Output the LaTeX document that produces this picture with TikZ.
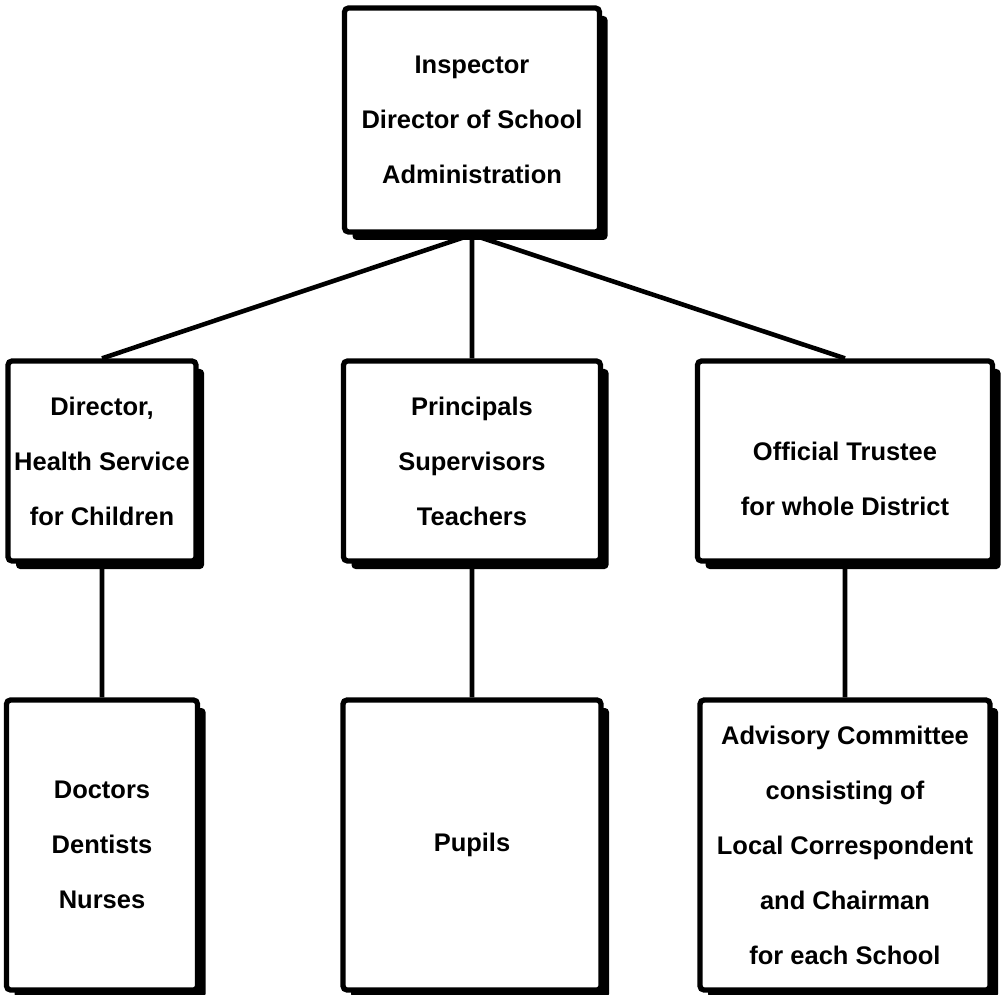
\documentclass[tikz,border=0pt]{standalone}
\usepackage{fontspec}
\setmainfont{Liberation Sans}
\usetikzlibrary{shadows}

\begin{document}
\begin{tikzpicture}
   \tikzstyle{level 1}=[sibling distance=7.4cm, level distance=6.82cm]
   \tikzstyle{level 2}=[level distance=7.68cm]
   \tikzstyle{every node}=[draw, line width=3pt, rounded corners=0.8mm, fill=white, align=center, inner sep=1pt, minimum height=4cm, font=\bfseries\fontsize{14.5}{31.3}\selectfont, drop shadow={shadow xshift=1.6mm, shadow yshift=-1.6mm, fill=black, opacity=1}]
   \tikzstyle{edge from parent}=[draw, line width=2.6pt]
   \tikzstyle{tall}=[minimum height=5.8cm]

\useasboundingbox (0,0) rectangle (20.06,-19.9);

\node (insp) [minimum width=5.1cm, minimum height=4.48cm] at (9.44,-2.4) {Inspector\\ Director of School\\ Administration}
    [edge from parent path={(\tikzparentnode.south) -- (\tikzchildnode.north)}]
    child {node (health) [minimum width=3.76cm] {Director,\\ Health Service\\ for Children}
        child {node (medics) [tall, minimum width=3.82cm] {Doctors\\ Dentists\\ Nurses}}
    }
    child {node (staff) [minimum width=5.14cm] {Principals\\ Supervisors\\ Teachers}
        child {node (pupils) [tall, minimum width=5.16cm] {Pupils}}
    }
    child {node (trustee) [minimum width=5.9cm, xshift=0.06cm] {\mbox{}\\ Official Trustee\\ for whole District}
        child {node (advisory) [tall, minimum width=5.8cm] {Advisory Committee\\ consisting of\\ Local Correspondent\\ and Chairman\\ for each School}}
    };

\end{tikzpicture}
\end{document}
